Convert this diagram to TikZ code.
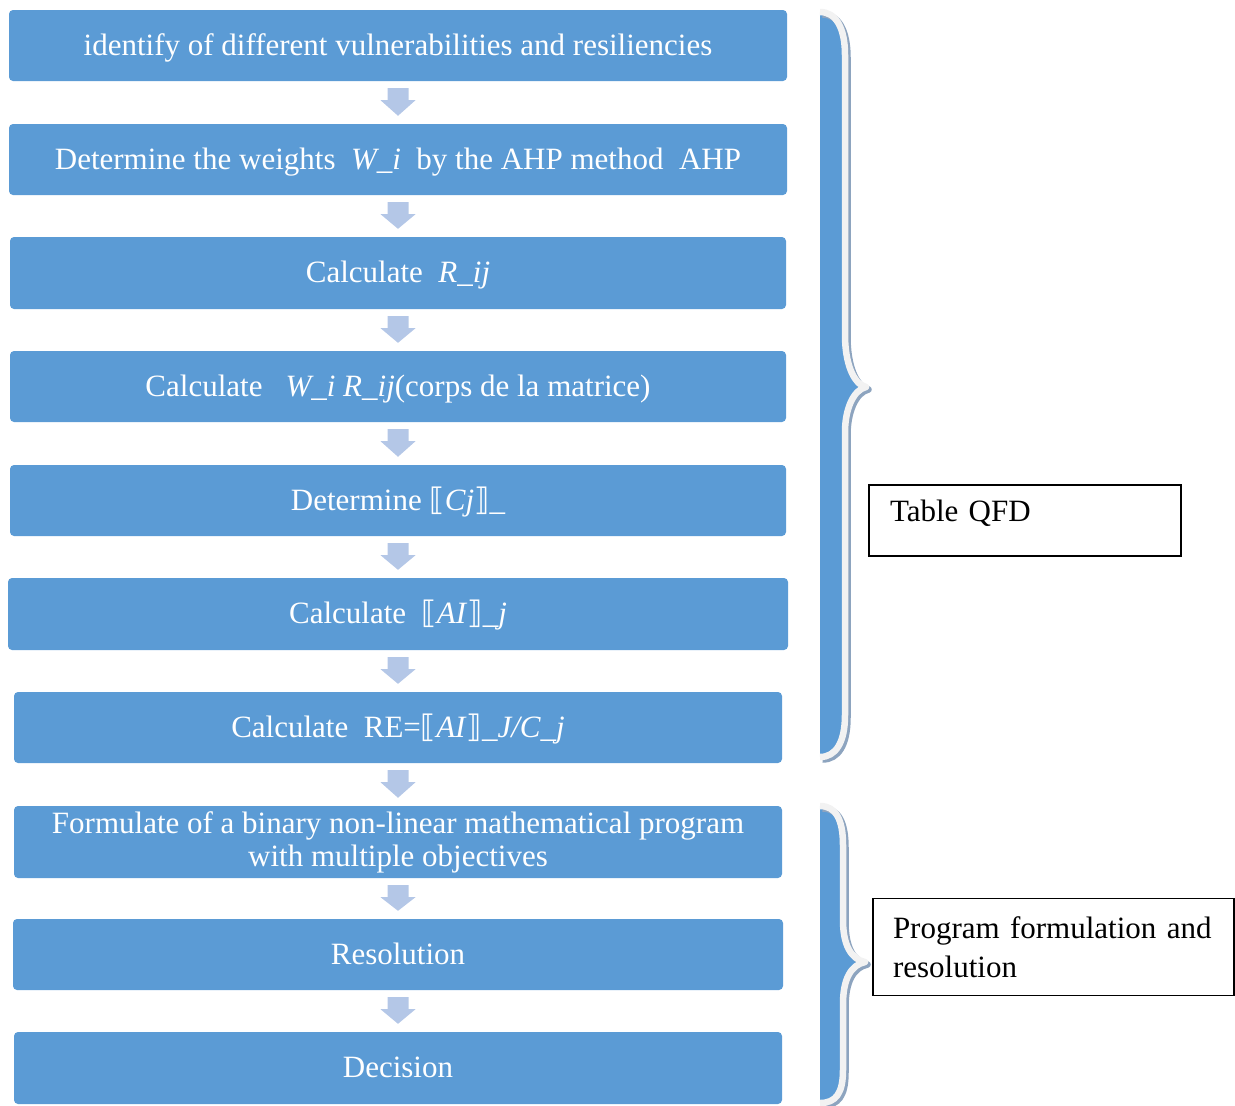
\documentclass[tikz,border=0pt]{standalone}
\usepackage{fontspec}
\setmainfont{Liberation Serif}
\newfontfamily\brfont{DejaVu Sans}
\usetikzlibrary{calc}
\definecolor{boxblue}{HTML}{5B9BD5}
\definecolor{arrblue}{HTML}{B4C7E7}
\definecolor{bracewhite}{HTML}{F2F2F2}
\definecolor{braceshadow}{HTML}{8DA4BF}
\newcommand\twosp{\hspace*{15.5pt}}
\newcommand\lbr{{\brfont ⟦}}
\newcommand\rbr{{\brfont ⟧}}
\newcommand\flowarrow[2]{%
  \fill[arrblue] ($(#1.south)+(-10.5,7)$) -- ($(#1.south)+(10.5,7)$) -- ($(#1.south)+(10.5,19)$) -- ($(#1.south)+(17.5,19)$) -- ($(#2.north)+(0,-8)$) -- ($(#1.south)+(-17.5,19)$) -- ($(#1.south)+(-10.5,19)$) -- cycle;}
\newcommand\braceA{(820,12) .. controls (836,12) and (845,28) .. (845,55) -- (845,335) .. controls (845,362) and (853,384) .. (866,387) .. controls (853,390) and (845,410) .. (845,432) -- (845,715) .. controls (845,742) and (836,757) .. (820,757)}
\newcommand\braceB{(820,806) .. controls (836,806) and (843,820) .. (843,845) -- (843,920) .. controls (843,945) and (851,959) .. (865,962) .. controls (851,965) and (843,979) .. (843,1004) -- (843,1070) .. controls (843,1093) and (836,1103) .. (820,1103)}
\begin{document}
\begin{tikzpicture}[x=1pt,y=-1pt,
  stepbase/.style={fill=boxblue, rounded corners=4pt, text=white, font=\fontsize{31pt}{33pt}\selectfont, inner sep=0pt, align=center},
  onel/.style={stepbase, minimum height=71pt, text height=24pt, text depth=5pt},
  labelbox/.style={draw=black, line width=1.3pt, fill=white, align=left, font=\fontsize{31pt}{39pt}\selectfont, inner ysep=0pt},
  bracestroke/.style={bracewhite, line width=6.5pt, line join=round},
  braceshade/.style={braceshadow, line width=6.5pt, line join=round, shift={(2.5,2.5)}}
]
\useasboundingbox (0,0) rectangle (1235,1106);

\node[onel, minimum width=778pt] (b1) at (398,45.5) {identify of different vulnerabilities and resiliencies};
\node[onel, minimum width=778pt] (b2) at (398,159.5) {Determine the weights\twosp\textit{W\_i}\twosp by the AHP method\twosp AHP};
\node[onel, minimum width=776pt, minimum height=72pt] (b3) at (398,273) {Calculate\twosp\textit{R\_ij}};
\node[onel, minimum width=776pt] (b4) at (398,386.5) {Calculate\hspace*{23pt}\textit{W\_i R\_ij}(corps de la matrice)};
\node[onel, minimum width=776pt] (b5) at (398,500.5) {Determine \lbr\textit{Cj}\rbr\_};
\node[onel, minimum width=780pt, minimum height=72pt] (b6) at (398,614) {Calculate\twosp\lbr\textit{AI}\rbr\textit{\_j}};
\node[onel, minimum width=768pt] (b7) at (398,727.5) {Calculate\twosp RE=\lbr\textit{AI}\rbr\textit{\_J/C\_j}};
\node[stepbase, minimum width=768pt, minimum height=72pt] (b8) at (398,842) {Formulate of a binary non-linear mathematical program\\with multiple objectives};
\node[onel, minimum width=770pt] (b9) at (398,954.5) {Resolution};
\node[onel, minimum width=768pt, minimum height=72pt] (b10) at (398,1068) {Decision};

\flowarrow{b1}{b2}
\flowarrow{b2}{b3}
\flowarrow{b3}{b4}
\flowarrow{b4}{b5}
\flowarrow{b5}{b6}
\flowarrow{b6}{b7}
\flowarrow{b7}{b8}
\flowarrow{b8}{b9}
\flowarrow{b9}{b10}

% braces
\fill[boxblue] \braceA -- cycle;
\draw[braceshade] \braceA;
\draw[bracestroke] \braceA;
\fill[boxblue] \braceB -- cycle;
\draw[braceshade] \braceB;
\draw[bracestroke] \braceB;

\node[labelbox, text width=270pt, inner xsep=21pt, minimum height=71pt, text height=21pt, text depth=19pt] (qfd) at (1025,520.5) {Table QFD};
\node[labelbox, text width=321pt, inner xsep=20pt, minimum height=97pt] (prog) at (1053.5,947) {Program formulation and\\resolution};
\end{tikzpicture}
\end{document}
